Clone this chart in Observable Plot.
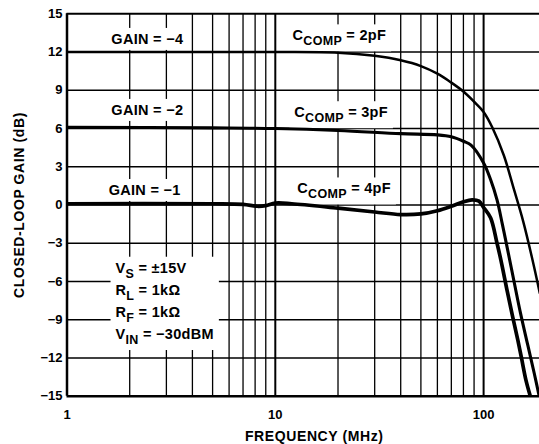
<!DOCTYPE html>
<html>
<head>
<meta charset="utf-8">
<script src="https://cdn.jsdelivr.net/npm/d3@7"></script>
<script src="https://cdn.jsdelivr.net/npm/@observablehq/plot@0.6"></script>
<style>
  html, body { margin: 0; padding: 0; background: white; }
  #chart { width: 539px; height: 444px; overflow: hidden; }
</style>
</head>
<body>
<div id="chart"></div>
<script>
// ---- data ----
const freq2pF = [1, 5, 10, 20, 30, 40, 50, 60, 70, 80, 90, 100, 110, 125, 140, 155, 170, 186];
const gain2pF = [12, 12, 12, 11.95, 11.7, 11.35, 10.9, 10.3, 9.6, 8.9, 8.1, 7.3, 6.1, 3.9, 1.2, -1.3, -4.0, -6.9];

const freq3pF = [1, 5, 10, 20, 40, 60, 70, 80, 87, 100, 108, 116, 123, 130, 140, 150, 163, 175, 186];
const gain3pF = [6.1, 6.05, 6.0, 5.85, 5.6, 5.5, 5.35, 5.0, 4.7, 3.3, 2.0, 0.4, -1.5, -3.4, -6.0, -8.4, -11.0, -13.2, -15.2];

const freq4pF = [1, 5, 7, 8.2, 9, 10, 12, 20, 30, 40, 50, 60, 70, 80, 88, 95, 100, 108, 116, 121, 130, 138, 146, 152, 160, 169];
const gain4pF = [0.1, 0.1, 0.05, -0.1, -0.05, 0.15, 0.1, -0.25, -0.55, -0.75, -0.7, -0.45, -0.1, 0.25, 0.4, 0.3, -0.2, -1.0, -3.0, -4.3, -6.8, -8.8, -10.6, -12.0, -13.8, -15.2];

const yTicks = [-15, -12, -9, -6, -3, 0, 3, 6, 9, 12, 15];
const xTicks = [1, 10, 100];
const xTickLabels = ["1", "10", "100"];
const xMinorGrid = [2, 3, 4, 5, 6, 7, 8, 9, 20, 30, 40, 50, 60, 70, 80, 90];
const xMajorGrid = [10, 100];
const yGrid = [-12, -9, -6, -3, 0, 3, 6, 9, 12];

const curveLabels = ["GAIN = \u22124", "GAIN = \u22122", "GAIN = \u22121", "C_{COMP} = 2pF", "C_{COMP} = 3pF", "C_{COMP} = 4pF"];
const curveLabelX = [2.43, 2.43, 2.36, 20.3, 20.7, 21.4];
const curveLabelY = [13.0, 7.43, 1.15, 13.28, 7.25, 1.27];

const infoLines = ["V_{S} = \u00b115V", "R_{L} = 1k\u03a9", "R_{F} = 1k\u03a9", "V_{IN} = \u221230dBM"];
const infoX = [1.71, 1.71, 1.71, 1.71];
const infoY = [-4.95, -6.7, -8.43, -10.15];

const xTitle = "FREQUENCY (MHz)";
const yTitle = "CLOSED-LOOP GAIN (dB)";

// ---- tables built from the arrays ----
const series = (f, g, id) => f.map((x, i) => ({f: x, g: g[i], id}));
const c2 = series(freq2pF, gain2pF, "2pF");
const c3 = series(freq3pF, gain3pF, "3pF");
const c4 = series(freq4pF, gain4pF, "4pF");
const lbl = curveLabels.map((t, i) => ({t, x: curveLabelX[i], y: curveLabelY[i]}));
const info = infoLines.map((t, i) => ({t, x: infoX[i], y: infoY[i]}));

const minus = d => d < 0 ? "\u2212" + Math.abs(d) : String(d);

const svg = Plot.plot({
  width: 539,
  height: 444,
  marginLeft: 66.5,
  marginRight: 0,
  marginTop: 13.3,
  marginBottom: 48.3,
  style: {fontFamily: "'Liberation Sans', Arial, Helvetica, sans-serif", fontWeight: "bold", fontSize: "12px", color: "black", background: "white"},
  x: {type: "log", domain: [1, 185.5]},
  y: {domain: [-15, 15]},
  marks: [
    Plot.ruleX(xMinorGrid, {stroke: "black", strokeWidth: 1.3}),
    Plot.ruleX(xMajorGrid, {stroke: "black", strokeWidth: 2}),
    Plot.ruleY(yGrid, {stroke: "black", strokeWidth: 1.5}),
    Plot.text(lbl, {x: "x", y: "y", text: "t", fontSize: 14.5, fill: "black", ariaDescription: "lbl"}),
    Plot.text(info, {x: "x", y: "y", text: "t", fontSize: 14.5, fill: "black", textAnchor: "start", ariaDescription: "info"}),
    Plot.ruleX([1], {stroke: "black", strokeWidth: 2.5}),
    Plot.ruleY([15], {stroke: "black", strokeWidth: 2}),
    Plot.ruleY([-15], {stroke: "black", strokeWidth: 2.6}),
    Plot.line(c2, {x: "f", y: "g", stroke: "black", strokeWidth: 2.5, curve: "catmull-rom", clip: true}),
    Plot.line(c3, {x: "f", y: "g", stroke: "black", strokeWidth: 3.1, curve: "catmull-rom", clip: true}),
    Plot.line(c4, {x: "f", y: "g", stroke: "black", strokeWidth: 3.7, curve: "catmull-rom", clip: true}),
    Plot.axisY({ticks: yTicks, tickSize: 0, tickPadding: 4.5, tickFormat: minus, label: null, fontSize: 13}),
    Plot.axisX({ticks: xTicks, tickSize: 0, tickPadding: 13.5, tickFormat: d => xTickLabels[xTicks.indexOf(d)], label: null, fontSize: 13}),
    Plot.text([xTitle], {text: d => d, frameAnchor: "bottom", lineAnchor: "middle", textAnchor: "middle", dy: 40, dx: 11, fontSize: 14, fill: "black", ariaDescription: "title"}),
    Plot.text([yTitle], {text: d => d, frameAnchor: "left", textAnchor: "middle", lineAnchor: "middle", dx: -47.5, rotate: -90, fontSize: 14, fill: "black", ariaDescription: "title"})
  ]
});

document.getElementById("chart").appendChild(svg);

const NS = "http://www.w3.org/2000/svg";
function findGroups(desc) {
  return Array.from(svg.querySelectorAll("g")).filter(g => g.getAttribute("aria-description") === desc);
}
const lg = findGroups("lbl")[0];
const ig = findGroups("info")[0];
findGroups("title").forEach(g => g.setAttribute("letter-spacing", "0.6"));
[lg, ig].filter(Boolean).forEach(g => g.setAttribute("letter-spacing", "0.3"));

// subscripts
[lg, ig].filter(Boolean).forEach(g => g.querySelectorAll("text").forEach(t => {
  const m = t.textContent.match(/^(.*?)_\{(.*?)\}(.*)$/);
  if (!m) return;
  t.textContent = "";
  const a = document.createElementNS(NS, "tspan"); a.textContent = m[1];
  const b = document.createElementNS(NS, "tspan"); b.textContent = m[2];
  b.setAttribute("dy", "5"); b.setAttribute("font-size", "12.5");
  const c = document.createElementNS(NS, "tspan"); c.textContent = m[3];
  c.setAttribute("dy", "-5");
  t.append(a, b, c);
}));

// white boxes behind labels (drawn under the curves)
function boxBehind(group, px, py) {
  const bb = group.getBBox();
  const r = document.createElementNS(NS, "rect");
  r.setAttribute("x", bb.x - px);
  r.setAttribute("y", bb.y - py);
  r.setAttribute("width", bb.width + 2 * px);
  r.setAttribute("height", bb.height + 2 * py);
  r.setAttribute("fill", "white");
  r.setAttribute("stroke", "none");
  group.insertBefore(r, group.firstChild);
}
if (lg) {
  Array.from(lg.querySelectorAll("text")).forEach(t => {
    const w = document.createElementNS(NS, "g");
    lg.insertBefore(w, t);
    w.appendChild(t);
    boxBehind(w, 5, 3);
  });
}
if (ig) boxBehind(ig, 5, 3);
</script>
</body>
</html>
